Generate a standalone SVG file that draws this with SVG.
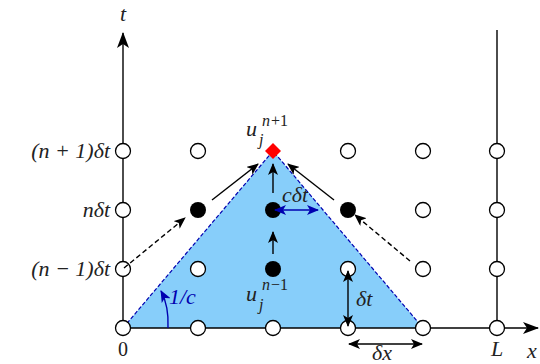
<svg xmlns="http://www.w3.org/2000/svg" width="540" height="364" viewBox="0 0 540 364">
<style>
.t{font-family:"Liberation Serif","DejaVu Serif",serif;font-style:italic;font-size:22px;fill:#222}
.r{font-family:"Liberation Serif","DejaVu Serif",serif;font-size:20px;fill:#222}
.s{font-family:"Liberation Serif","DejaVu Serif",serif;font-style:italic;font-size:16px;fill:#222}
.sr{font-family:"Liberation Serif","DejaVu Serif",serif;font-size:16px;fill:#222}
.o{fill:#fff;stroke:#000;stroke-width:1.3}
.f{fill:#000}
.ln{stroke:#000;stroke-width:1.4;fill:none}
.bl{stroke:#0000b0;stroke-width:1.4;fill:none}
</style>
<defs>
<marker id="ah" viewBox="0 0 12 10" refX="11" refY="5" markerWidth="12" markerHeight="10" markerUnits="userSpaceOnUse" orient="auto-start-reverse"><path d="M0,0 L12,5 L0,10 L3,5 Z" fill="#000"/></marker>
<marker id="ahb" viewBox="0 0 12 10" refX="11" refY="5" markerWidth="12" markerHeight="10" markerUnits="userSpaceOnUse" orient="auto-start-reverse"><path d="M0,0 L12,5 L0,10 L3,5 Z" fill="#0000b0"/></marker>
<marker id="axh" viewBox="0 0 16 12" refX="15" refY="6" markerWidth="16" markerHeight="12" markerUnits="userSpaceOnUse" orient="auto"><path d="M0,0 L16,6 L0,12 L4,6 Z" fill="#000"/></marker>
</defs>
<g id="domain">
<polygon points="123,328 273,151 423,328" fill="#87cefa"/>
<polyline points="123,328 273,151 423,328" fill="none" stroke="#0000b0" stroke-width="1.2" stroke-dasharray="4,2"/>
</g>
<g id="axes">
<line class="ln" x1="123" y1="328" x2="123" y2="33" marker-end="url(#axh)"/>
<line class="ln" x1="123" y1="328" x2="538" y2="328" marker-end="url(#axh)"/>
<line class="ln" x1="497" y1="30" x2="497" y2="328"/>
</g>
<g id="nodes">
<g id="row0"><circle class="o" cx="123" cy="328" r="7.5"/><circle class="o" cx="198" cy="328" r="7.5"/><circle class="o" cx="273" cy="328" r="7.5"/><circle class="o" cx="348" cy="328" r="7.5"/><circle class="o" cx="423" cy="328" r="7.5"/><circle class="o" cx="497" cy="328" r="7.5"/></g>
<g id="row1"><circle class="o" cx="123" cy="269" r="7.5"/><circle class="o" cx="198" cy="269" r="7.5"/><circle class="f" cx="273" cy="269" r="8"/><circle class="o" cx="348" cy="269" r="7.5"/><circle class="o" cx="423" cy="269" r="7.5"/><circle class="o" cx="497" cy="269" r="7.5"/></g>
<g id="row2"><circle class="o" cx="123" cy="210" r="7.5"/><circle class="f" cx="198" cy="210" r="8"/><circle class="f" cx="273" cy="210" r="8"/><circle class="f" cx="348" cy="210" r="8"/><circle class="o" cx="423" cy="210" r="7.5"/><circle class="o" cx="497" cy="210" r="7.5"/></g>
<g id="row3"><circle class="o" cx="123" cy="151" r="7.5"/><circle class="o" cx="198" cy="151" r="7.5"/><circle class="o" cx="348" cy="151" r="7.5"/><circle class="o" cx="423" cy="151" r="7.5"/><circle class="o" cx="497" cy="151" r="7.5"/></g>
<g id="target"><polygon points="273,143 281,151 273,159 265,151" fill="#ff0000"/></g>
</g>
<g id="connectors">
<line class="ln" x1="212" y1="200" x2="258" y2="164" marker-end="url(#ah)"/>
<line class="ln" x1="334" y1="200" x2="288" y2="164" marker-end="url(#ah)"/>
<line class="ln" x1="273" y1="193" x2="273" y2="164" marker-end="url(#ah)"/>
<line class="ln" x1="273" y1="254" x2="273" y2="232" marker-end="url(#ah)"/>
<line class="ln" x1="124" y1="268" x2="185" y2="218" stroke-dasharray="5,3" marker-end="url(#ah)"/>
<line class="ln" x1="410" y1="261" x2="355" y2="215" stroke-dasharray="5,3" marker-end="url(#ah)"/>
<line class="bl" x1="275" y1="210" x2="318" y2="210" marker-start="url(#ahb)" marker-end="url(#ahb)"/>
<line class="ln" x1="348" y1="271" x2="348" y2="326" marker-start="url(#ah)" marker-end="url(#ah)"/>
<line class="ln" x1="349" y1="344" x2="422" y2="344" marker-start="url(#ah)" marker-end="url(#ah)"/>
<path class="bl" d="M168,328 Q169,306 161,291" marker-end="url(#ahb)"/>
</g>
<g id="labels">
<text class="t" x="123" y="21" text-anchor="middle">t</text>
<text class="t" x="110" y="158" text-anchor="end">(n + 1)δt</text>
<text class="t" x="110" y="217" text-anchor="end">nδt</text>
<text class="t" x="110" y="276" text-anchor="end">(n − 1)δt</text>
<text class="r" x="123" y="356" text-anchor="middle">0</text>
<text class="t" x="497" y="356" text-anchor="middle">L</text>
<text class="t" x="532" y="358" text-anchor="middle">x</text>
<text class="t" x="246" y="136">u</text><text class="s" x="259" y="145">j</text><text class="s" x="262" y="126">n</text><text class="sr" x="271" y="126">+1</text>
<text class="t" x="246" y="301">u</text><text class="s" x="259" y="310">j</text><text class="s" x="262" y="290">n</text><text class="sr" x="271" y="290">−1</text>
<text class="t" x="282" y="202">cδt</text>
<text class="t" x="356" y="306">δt</text>
<text class="t" x="372" y="360">δx</text>
<text class="t" x="169" y="304" style="fill:#0000b0">1/c</text>
</g>
</svg>
